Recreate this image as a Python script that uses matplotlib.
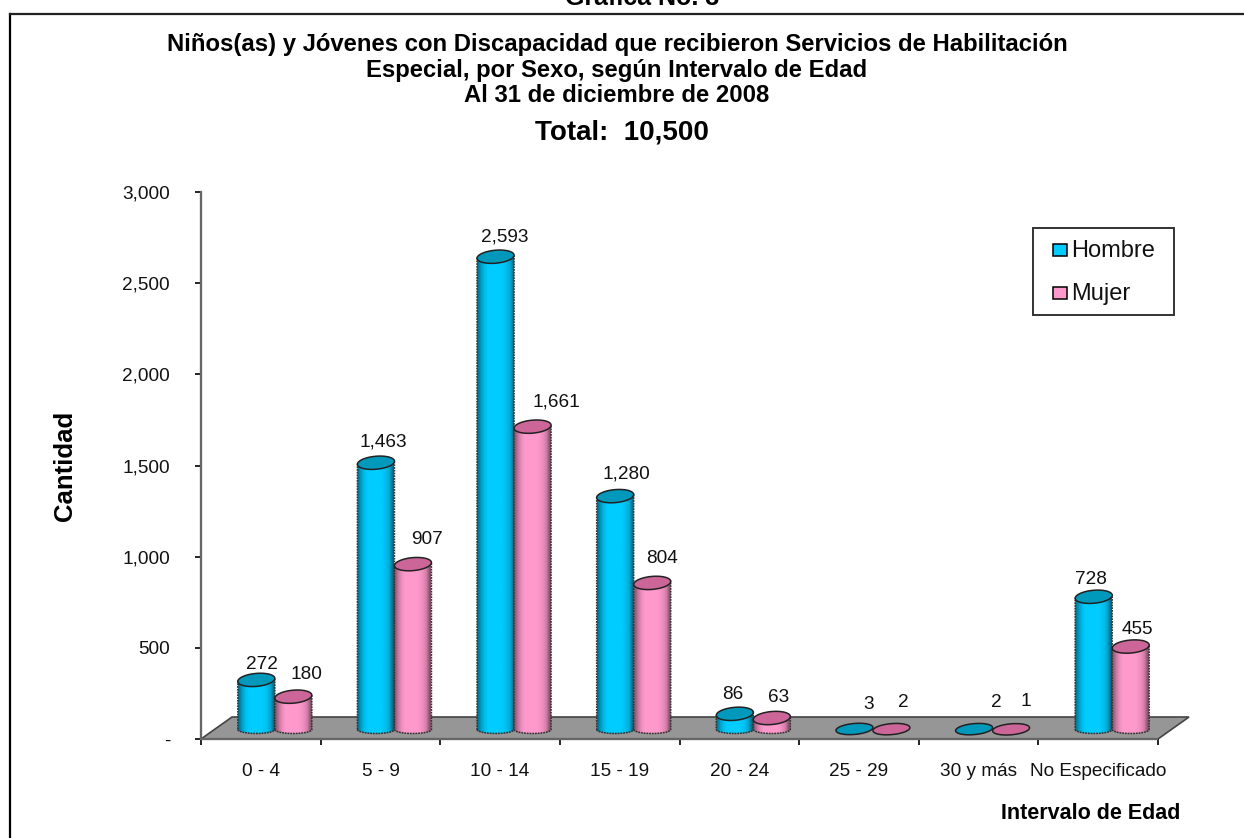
import matplotlib
matplotlib.use('Agg')
import matplotlib.pyplot as plt
from matplotlib.patches import Polygon, PathPatch
from matplotlib.lines import Line2D
from matplotlib.patches import Rectangle
from matplotlib.path import Path
import numpy as np

plt.rcParams['font.family'] = ['Liberation Sans', 'DejaVu Sans']

categories = ['0 - 4', '5 - 9', '10 - 14', '15 - 19', '20 - 24', '25 - 29', '30 y más', 'No Especificado']
hombre = [272, 1463, 2593, 1280, 86, 3, 2, 728]
mujer = [180, 907, 1661, 804, 63, 2, 1, 455]
y_ticks = [0, 500, 1000, 1500, 2000, 2500, 3000]
y_labels = ['-', '500', '1,000', '1,500', '2,000', '2,500', '3,000']

# hand placed labels in the original, offsets in pixels from the cylinder top
hombre_nudge = [(6, 15), (7, 21), (9, 20), (11, 22), (-2, 19), (14, 24), (22, 27), (-3, 17)]
mujer_nudge = [(13, 22), (14, 25), (24, 25), (10, 24), (7, 21), (12, 27), (15, 28), (7, 17)]

W, H = 1244, 838
BLUE = '#00ccff'
PINK = '#ff99cc'
TOP_BLUE = '#0099bb'
TOP_PINK = '#cc6699'

fig = plt.figure(figsize=(W / 100, H / 100), dpi=100)

# chart frame: only the top and left lines are in the picture
fig.add_artist(Line2D([9.5 / W, 9.5 / W], [0, 1 - 14 / H], color='black', linewidth=1.6))
fig.add_artist(Line2D([9.5 / W, 1], [1 - 14 / H, 1 - 14 / H], color='#222222', linewidth=1.6))

left, right, top, bottom = 201, 1158, 192, 739
ax = fig.add_axes([left / W, 1 - bottom / H, (right - left) / W, (bottom - top) / H])
ax.set_xlim(0, len(categories))
ax.set_ylim(0, 3000)
ax.set_facecolor('none')
for s in ['top', 'right']:
    ax.spines[s].set_visible(False)
for s in ['left', 'bottom']:
    ax.spines[s].set_linewidth(1.6)
    ax.spines[s].set_linestyle((0, (0.6, 0.6)))
    ax.spines[s].set_color('#666666')

px_x = len(categories) / (right - left)
px_y = 3000 / (bottom - top)

ax.set_xticks(np.arange(len(categories) + 1))
ax.set_xticklabels([])
ax.set_xticks(np.arange(len(categories)) + 0.5, minor=True)
ax.set_xticklabels(categories, minor=True, fontsize=13.7, color='#111111')
ax.tick_params(axis='x', which='minor', length=0, pad=17)
ax.tick_params(axis='x', which='major', length=4.3, width=1.2, direction='out')
ax.set_yticks(y_ticks)
ax.set_yticklabels(y_labels, fontsize=13.7, color='#111111')
ax.tick_params(axis='y', length=4.3, width=1.2, pad=18)

# floor of the 3d plot
dx, dy = 31 * px_x, 22 * px_y
ax.add_patch(Polygon([(0, 0), (len(categories), 0), (len(categories) + dx, dy), (dx, dy)],
                     closed=True, facecolor='#969696', edgecolor='#444444', linewidth=1.2,
                     clip_on=False, zorder=1))

bw = 37 * px_x
base = 9.5 * px_y
shift = 14 * px_x
ry_top = 6.5 * px_y
ry_low = 4 * px_y
ry_flat = 5.5 * px_y
tilt = 1.5 * px_y
shade = np.array([0.6, 0.8, 0.93, 1, 1, 1, 1, 1, 0.97, 0.92, 0.82, 0.55])[None, :]
t = np.linspace(0, 2 * np.pi, 60)


def cap(xc, yc, ry):
    # slightly tilted ellipse, right side up
    return np.column_stack([xc + bw / 2 * np.cos(t), yc + ry * np.sin(t) + tilt * np.cos(t)])


def cylinder(xc, val, col, topcol, z):
    x0 = xc - bw / 2
    if val > 20:
        arc = np.linspace(np.pi, 2 * np.pi, 30)
        low = np.column_stack([xc + bw / 2 * np.cos(arc), base + ry_low * np.sin(arc)])
        body = np.vstack([low, [(x0 + bw, base + val + tilt), (x0, base + val - tilt)], low[:1]])
        path = Path(body, closed=True)
        clip = PathPatch(path, transform=ax.transData, facecolor='none', edgecolor='none')
        rgb = np.array(matplotlib.colors.to_rgb(col))
        img = shade[..., None] * rgb
        im = ax.imshow(img, extent=(x0, x0 + bw, base - ry_low, base + val + tilt), aspect='auto',
                       interpolation='bilinear', zorder=z)
        im.set_clip_path(clip)
        ax.add_patch(PathPatch(path, facecolor='none', edgecolor='#333333', linewidth=1.1,
                               linestyle=(0, (1.2, 0.6)), zorder=z + 0.2, clip_on=False))
        ry = ry_top
    else:
        ry = ry_flat
    ax.add_patch(Polygon(cap(xc, base + val, ry), closed=True, facecolor=topcol, edgecolor='#222222',
                         linewidth=1.1, zorder=z + 0.3, clip_on=False))


for i in range(len(categories)):
    xb = i + 0.5 + shift - bw / 2
    xm = i + 0.5 + shift + bw / 2
    cylinder(xb, hombre[i], BLUE, TOP_BLUE, 3)
    cylinder(xm, mujer[i], PINK, TOP_PINK, 4)
    for xc, v, nudge in [(xb, hombre[i], hombre_nudge[i]), (xm, mujer[i], mujer_nudge[i])]:
        ax.annotate(f'{v:,}', (xc, base + v), xytext=(nudge[0] * 0.72, nudge[1] * 0.72),
                    textcoords='offset points', ha='center', va='center', fontsize=13.7,
                    color='#111111', zorder=6)
ax.set_xlim(0, len(categories))
ax.set_ylim(0, 3000)

# text
fig.text(642 / W, 1 - 5 / H, 'Gráfica No. 3', fontsize=18, fontweight='bold', ha='center', va='baseline')
titles = ['Niños(as) y Jóvenes con Discapacidad que recibieron Servicios de Habilitación',
          'Especial, por Sexo, según Intervalo de Edad',
          'Al 31 de diciembre de 2008']
for line, y in zip(titles, [44, 70, 95]):
    fig.text(617 / W, 1 - y / H, line, fontsize=17.2, fontweight='bold', ha='center', va='center')
fig.text(622 / W, 1 - 133 / H, 'Total:  10,500', fontsize=20, fontweight='bold', ha='center', va='center')
fig.text(65 / W, 1 - 466 / H, 'Cantidad', fontsize=18.5, fontweight='bold', rotation=90, ha='center', va='center')
fig.text(1091 / W, 1 - 813 / H, 'Intervalo de Edad', fontsize=15.5, fontweight='bold', ha='center', va='center')

# legend box
fig.add_artist(Rectangle((1033 / W, 1 - 315 / H), 141 / W, 87 / H, transform=fig.transFigure,
                         facecolor='white', edgecolor='#333333', linewidth=1.4))
for label, col, y in [('Hombre', BLUE, 250), ('Mujer', PINK, 293)]:
    fig.add_artist(Rectangle((1053 / W, 1 - (y + 6.5) / H), 13.5 / W, 12.5 / H, transform=fig.transFigure,
                             facecolor=col, edgecolor='black', linewidth=1.1))
    fig.text(1071 / W, 1 - (y + 1) / H, label, fontsize=17, color='#111111', ha='left', va='center')

fig.savefig('out.png', dpi=100)
